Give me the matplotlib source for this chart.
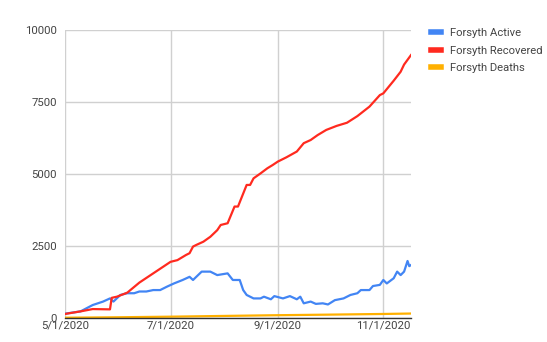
import matplotlib
matplotlib.use("Agg")
import matplotlib.pyplot as plt
import numpy as np
import pandas as pd

plt.rcParams['font.family'] = ['Roboto', 'DejaVu Sans']

start = pd.Timestamp("2020-05-01")
end_date = pd.Timestamp("2020-11-17")

# Days since 5/1/2020 and values
recovered_days = [0, 9, 16, 26, 27, 30, 36, 43, 51, 61, 65, 70, 72, 74, 76, 80, 84, 88, 90, 94,
                  98, 100, 105, 107, 109, 113, 117, 120, 123, 128, 134, 138, 142, 146, 151, 157,
                  163, 169, 176, 182, 184, 190, 194, 196, 200]
recovered = [140, 230, 310, 300, 700, 740, 880, 1230, 1550, 1950, 2010, 2190, 2250, 2480, 2540,
             2650, 2820, 3050, 3230, 3290, 3870, 3870, 4620, 4620, 4850, 5020, 5200, 5310, 5430,
             5580, 5780, 6070, 6180, 6350, 6530, 6670, 6780, 7010, 7340, 7740, 7800, 8240, 8550,
             8800, 9130]

active_days = [0, 9, 16, 22, 26, 28, 32, 36, 40, 43, 47, 51, 55, 59, 63, 68, 72, 74, 79, 84, 88,
               94, 97, 101, 103, 105, 109, 113, 115, 119, 121, 126, 130, 134, 136, 138, 142, 145,
               149, 152, 156, 161, 165, 169, 171, 176, 178, 182, 184, 186, 190, 192, 194, 196,
               198, 199, 200]
active = [150, 230, 450, 570, 680, 570, 800, 860, 860, 920, 920, 970, 970, 1090, 1200, 1320, 1430,
          1320, 1610, 1610, 1490, 1550, 1320, 1320, 970, 800, 680, 680, 740, 650, 760, 680, 760,
          650, 740, 510, 570, 490, 510, 470, 620, 680, 800, 860, 970, 970, 1110, 1150, 1320, 1200,
          1380, 1610, 1490, 1610, 1980, 1800, 1840]

deaths_days = [0, 30, 60, 90, 120, 150, 184, 200]
deaths = [10, 25, 45, 70, 95, 115, 140, 155]

series = [
    ("Forsyth Active", active_days, active, "#4285F4"),
    ("Forsyth Recovered", recovered_days, recovered, "#FF2A1F"),
    ("Forsyth Deaths", deaths_days, deaths, "#FFB000"),
]

y_ticks = [0, 2500, 5000, 7500, 10000]
x_tick_labels = ["5/1/2020", "7/1/2020", "9/1/2020", "11/1/2020"]

fig = plt.figure(figsize=(5.47, 3.42), dpi=100)
ax = fig.add_axes([65/547, 1-318/342, (411-65)/547, (318-30)/342])

handles = []
for name, days, vals, col in series:
    dates = start + pd.to_timedelta(days, unit="D")
    h, = ax.plot(dates, vals, color=col, lw=1.6, label=name, solid_joinstyle="round", zorder=3)
    handles.append(h)

ax.set_ylim(0, 10000)
ax.set_xlim(start, end_date)
ax.set_yticks(y_ticks)
ax.set_yticklabels([str(v) for v in y_ticks])
xt = [pd.Timestamp(s) for s in ["2020-05-01", "2020-07-01", "2020-09-01", "2020-11-01"]]
ax.set_xticks(xt)
ax.set_xticklabels(x_tick_labels)

ax.grid(True, color="#d0d0d0", lw=1, zorder=0)
for s in ["top", "right", "left"]:
    ax.spines[s].set_visible(False)
ax.spines["bottom"].set_color("#333333")
ax.spines["bottom"].set_linewidth(1)
ax.spines["bottom"].set_zorder(4)
ax.tick_params(axis="both", length=0, labelsize=8.2, labelcolor="#444444")
ax.tick_params(axis="y", pad=6)
ax.tick_params(axis="x", pad=2)

leg = fig.legend(handles=handles, loc="upper left", bbox_to_anchor=(425/547, 1-22/342),
                 frameon=False, fontsize=8.1, handlelength=0.9, handletextpad=0.8,
                 labelspacing=0.7, borderpad=0)
for t in leg.get_texts():
    t.set_color("#444444")
for lh in leg.legend_handles:
    lh.set_linewidth(4)

fig.savefig("out.png", dpi=100)
